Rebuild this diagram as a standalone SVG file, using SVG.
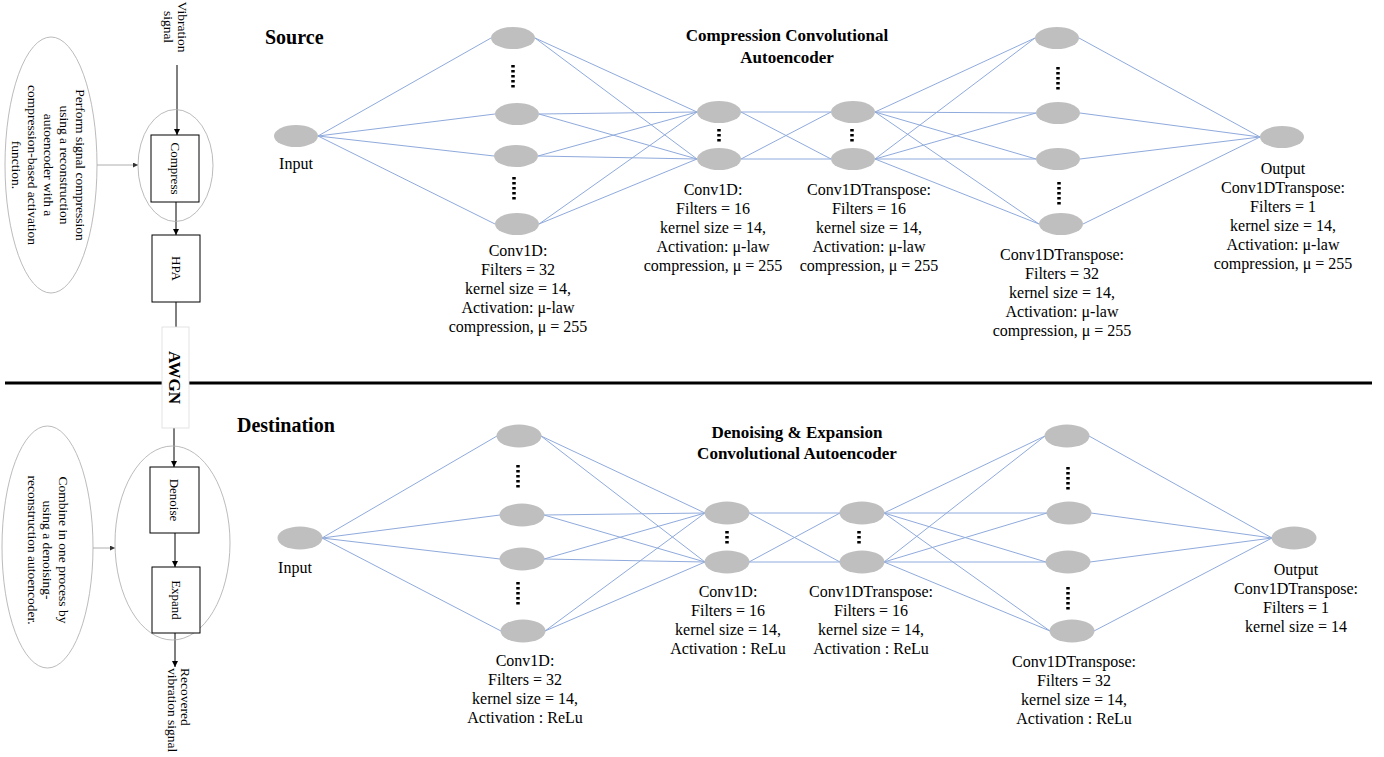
<svg xmlns="http://www.w3.org/2000/svg" width="1384" height="757" viewBox="0 0 1384 757">
<style>
text{font-family:"Liberation Serif","Times New Roman",serif;fill:#000}
.lbl{font-size:16px;text-anchor:middle}
.ttl{font-size:17px;font-weight:bold;text-anchor:middle}
.big{font-size:20px;font-weight:bold}
.side{font-size:13.5px;text-anchor:middle}
.box{font-size:13px;text-anchor:middle}
.n{fill:#bfbfbf}
.e{stroke:#8faadc;stroke-width:1;fill:none}
.dots{stroke:#000;stroke-width:3.5;stroke-dasharray:2.5 2.5}
.bx{fill:#fff;stroke:#000;stroke-width:1}
.el{fill:none;stroke:#aaa;stroke-width:0.8}
.ar{stroke:#000;stroke-width:1;fill:none}
</style>
<defs>
<marker id="ah" viewBox="0 0 10 10" refX="10" refY="5" markerWidth="6" markerHeight="6" markerUnits="userSpaceOnUse" orient="auto"><path d="M0,0L10,5L0,10z" fill="#000"/></marker>
<marker id="ahs" viewBox="0 0 10 10" refX="10" refY="5" markerWidth="5" markerHeight="5" markerUnits="userSpaceOnUse" orient="auto"><path d="M0,0L10,5L0,10z" fill="#333"/></marker>
</defs>
<rect width="1384" height="757" fill="#fff"/>
<line x1="5" y1="383" x2="1372" y2="383" stroke="#000" stroke-width="3"/>

<g id="connectors">
<g class="e">
<!-- top: input -> L1 -->
<line x1="318" y1="136" x2="491" y2="38"/><line x1="318" y1="136" x2="495" y2="114"/><line x1="318" y1="136" x2="494" y2="156"/><line x1="318" y1="136" x2="495" y2="224"/>
<!-- L1 -> L2 -->
<line x1="535" y1="38" x2="697" y2="112"/><line x1="535" y1="38" x2="697" y2="159"/>
<line x1="539" y1="114" x2="697" y2="112"/><line x1="539" y1="114" x2="697" y2="159"/>
<line x1="538" y1="156" x2="697" y2="112"/><line x1="538" y1="156" x2="697" y2="159"/>
<line x1="539" y1="224" x2="697" y2="112"/><line x1="539" y1="224" x2="697" y2="159"/>
<!-- L2 -> L3 -->
<line x1="741" y1="112" x2="831" y2="112"/><line x1="741" y1="112" x2="831" y2="159"/>
<line x1="741" y1="159" x2="831" y2="112"/><line x1="741" y1="159" x2="831" y2="159"/>
<!-- L3 -> L4 -->
<line x1="875" y1="112" x2="1035" y2="38"/><line x1="875" y1="112" x2="1036" y2="113"/><line x1="875" y1="112" x2="1036" y2="159"/><line x1="875" y1="112" x2="1039" y2="224"/>
<line x1="875" y1="159" x2="1035" y2="38"/><line x1="875" y1="159" x2="1036" y2="113"/><line x1="875" y1="159" x2="1036" y2="159"/><line x1="875" y1="159" x2="1039" y2="224"/>
<!-- L4 -> output -->
<line x1="1079" y1="38" x2="1260" y2="137"/><line x1="1080" y1="113" x2="1260" y2="137"/><line x1="1080" y1="159" x2="1260" y2="137"/><line x1="1083" y1="224" x2="1260" y2="137"/>

<!-- bottom: input -> L1 -->
<line x1="322" y1="538" x2="497" y2="436"/><line x1="322" y1="538" x2="500" y2="515"/><line x1="322" y1="538" x2="500" y2="559"/><line x1="322" y1="538" x2="501" y2="631"/>
<!-- L1 -> L2 -->
<line x1="541" y1="436" x2="705" y2="513"/><line x1="541" y1="436" x2="705" y2="562"/>
<line x1="544" y1="515" x2="705" y2="513"/><line x1="544" y1="515" x2="705" y2="562"/>
<line x1="544" y1="559" x2="705" y2="513"/><line x1="544" y1="559" x2="705" y2="562"/>
<line x1="545" y1="631" x2="705" y2="513"/><line x1="545" y1="631" x2="705" y2="562"/>
<!-- L2 -> L3 -->
<line x1="749" y1="513" x2="840" y2="513"/><line x1="749" y1="513" x2="840" y2="562"/>
<line x1="749" y1="562" x2="840" y2="513"/><line x1="749" y1="562" x2="840" y2="562"/>
<!-- L3 -> L4 -->
<line x1="884" y1="513" x2="1045" y2="436"/><line x1="884" y1="513" x2="1047" y2="513"/><line x1="884" y1="513" x2="1046" y2="562"/><line x1="884" y1="513" x2="1050" y2="631"/>
<line x1="884" y1="562" x2="1045" y2="436"/><line x1="884" y1="562" x2="1047" y2="513"/><line x1="884" y1="562" x2="1046" y2="562"/><line x1="884" y1="562" x2="1050" y2="631"/>
<!-- L4 -> output -->
<line x1="1089" y1="436" x2="1272" y2="538"/><line x1="1091" y1="513" x2="1272" y2="538"/><line x1="1090" y1="562" x2="1272" y2="538"/><line x1="1094" y1="631" x2="1272" y2="538"/>
</g>
<!-- left flow -->
<line class="ar" x1="177" y1="65" x2="177" y2="135" marker-end="url(#ah)"/>
<line class="ar" x1="176" y1="202" x2="176" y2="235" marker-end="url(#ah)"/>
<line class="ar" x1="176" y1="302" x2="176" y2="327"/>
<line class="ar" x1="174" y1="428" x2="174" y2="467" marker-end="url(#ah)"/>
<line class="ar" x1="175" y1="533" x2="175" y2="567" marker-end="url(#ah)"/>
<line class="ar" x1="175" y1="633" x2="175" y2="667" marker-end="url(#ah)"/>
<line x1="97" y1="165" x2="138" y2="165" stroke="#999" stroke-width="0.8" marker-end="url(#ahs)"/>
<line x1="93" y1="548" x2="115" y2="548" stroke="#999" stroke-width="0.8" marker-end="url(#ahs)"/>
</g>

<g id="awgn">
<rect x="162" y="327" width="27" height="101" fill="#fff" stroke="#ddd" stroke-width="0.8"/>
<text transform="translate(169,377.5) rotate(90)" style="font-size:17px;font-weight:bold;text-anchor:middle">AWGN</text>
</g>

<g id="source-side">
<g id="vib-signal"><text class="side" transform="translate(177.5,27) rotate(90)"><tspan x="0">Vibration</tspan><tspan x="0" dy="14">signal</tspan></text></g>
<g id="note-compress">
<ellipse class="el" cx="51" cy="165" rx="46" ry="128"/>
<text class="side" transform="translate(75.5,165) rotate(90)"><tspan x="0">Perform signal compression</tspan><tspan x="0" dy="15.8">using a reconstruction</tspan><tspan x="0" dy="15.8">autoencoder with a</tspan><tspan x="0" dy="15.8">compression-based activation</tspan><tspan x="0" dy="15.8">function.</tspan></text>
</g>
<ellipse class="el" cx="175.5" cy="165.5" rx="37.5" ry="56"/>
<g id="compress"><rect class="bx" x="151" y="135" width="48" height="67"/><text class="box" transform="translate(170.7,168.5) rotate(90)">Compress</text></g>
<g id="hpa"><rect class="bx" x="152" y="235" width="48" height="67"/><text class="box" transform="translate(171.5,268.5) rotate(90)">HPA</text></g>
</g>

<g id="dest-side">
<g id="note-denoise">
<ellipse class="el" cx="47.5" cy="547" rx="45.5" ry="121"/>
<text class="side" transform="translate(58.5,550) rotate(90)"><tspan x="0">Combine in one process by</tspan><tspan x="0" dy="15.5">using a denoising-</tspan><tspan x="0" dy="15.5">reconstruction autoencoder.</tspan></text>
</g>
<ellipse class="el" cx="172.5" cy="543" rx="57.5" ry="97"/>
<g id="denoise"><rect class="bx" x="150" y="467" width="49" height="66"/><text class="box" transform="translate(170,500) rotate(90)">Denoise</text></g>
<g id="expand"><rect class="bx" x="152" y="567" width="48" height="66"/><text class="box" transform="translate(171.5,600) rotate(90)">Expand</text></g>
<g id="recovered"><text transform="translate(180.5,668) rotate(90)" style="font-size:13.5px"><tspan x="0">Recovered</tspan><tspan x="0" dy="13">vibration signal</tspan></text></g>
</g>

<g id="titles">
<text class="big" x="265" y="44">Source</text>
<text class="ttl" x="787" y="41">Compression Convolutional</text>
<text class="ttl" x="787" y="63">Autoencoder</text>
<text class="big" x="237" y="432">Destination</text>
<text class="ttl" x="797" y="438">Denoising &amp; Expansion</text>
<text class="ttl" x="797" y="459">Convolutional Autoencoder</text>
</g>

<g id="top-input"><ellipse class="n" cx="296" cy="136" rx="22" ry="11"/><text class="lbl" x="296" y="169">Input</text></g>
<g id="top-l1">
<ellipse class="n" cx="513" cy="38" rx="22" ry="11"/><ellipse class="n" cx="517" cy="114" rx="22" ry="11"/><ellipse class="n" cx="516" cy="156" rx="22" ry="11"/><ellipse class="n" cx="517" cy="224" rx="22" ry="11"/>
<line class="dots" x1="513" y1="65" x2="513" y2="88"/><line class="dots" x1="514" y1="177" x2="514" y2="200"/>
<text class="lbl" x="518"><tspan x="518" y="256">Conv1D:</tspan><tspan x="518" y="275">Filters = 32</tspan><tspan x="518" y="294">kernel size = 14,</tspan><tspan x="518" y="313">Activation: μ-law</tspan><tspan x="518" y="332">compression, μ = 255</tspan></text>
</g>
<g id="top-l2">
<ellipse class="n" cx="719" cy="112" rx="22" ry="11"/><ellipse class="n" cx="719" cy="159" rx="22" ry="11"/>
<line class="dots" x1="719" y1="129" x2="719" y2="143"/>
<text class="lbl"><tspan x="713" y="195">Conv1D:</tspan><tspan x="713" y="214">Filters = 16</tspan><tspan x="713" y="233">kernel size = 14,</tspan><tspan x="713" y="252">Activation: μ-law</tspan><tspan x="713" y="271">compression, μ = 255</tspan></text>
</g>
<g id="top-l3">
<ellipse class="n" cx="853" cy="112" rx="22" ry="11"/><ellipse class="n" cx="853" cy="159" rx="22" ry="11"/>
<line class="dots" x1="852" y1="129" x2="852" y2="143"/>
<text class="lbl"><tspan x="869" y="195">Conv1DTranspose:</tspan><tspan x="869" y="214">Filters = 16</tspan><tspan x="869" y="233">kernel size = 14,</tspan><tspan x="869" y="252">Activation: μ-law</tspan><tspan x="869" y="271">compression, μ = 255</tspan></text>
</g>
<g id="top-l4">
<ellipse class="n" cx="1057" cy="38" rx="22" ry="11"/><ellipse class="n" cx="1058" cy="113" rx="22" ry="11"/><ellipse class="n" cx="1058" cy="159" rx="22" ry="11"/><ellipse class="n" cx="1061" cy="224" rx="22" ry="11"/>
<line class="dots" x1="1058" y1="67" x2="1058" y2="90"/><line class="dots" x1="1059" y1="182" x2="1059" y2="205"/>
<text class="lbl"><tspan x="1062" y="260">Conv1DTranspose:</tspan><tspan x="1062" y="279">Filters = 32</tspan><tspan x="1062" y="298">kernel size = 14,</tspan><tspan x="1062" y="317">Activation: μ-law</tspan><tspan x="1062" y="336">compression, μ = 255</tspan></text>
</g>
<g id="top-output">
<ellipse class="n" cx="1282" cy="137" rx="22" ry="11"/>
<text class="lbl"><tspan x="1283" y="174">Output</tspan><tspan x="1283" y="193">Conv1DTranspose:</tspan><tspan x="1283" y="212">Filters = 1</tspan><tspan x="1283" y="231">kernel size = 14,</tspan><tspan x="1283" y="250">Activation: μ-law</tspan><tspan x="1283" y="269">compression, μ = 255</tspan></text>
</g>

<g id="bot-input"><ellipse class="n" cx="300" cy="538" rx="22.5" ry="11.5"/><text class="lbl" x="295" y="573">Input</text></g>
<g id="bot-l1">
<ellipse class="n" cx="519" cy="436" rx="22.5" ry="11.5"/><ellipse class="n" cx="522" cy="515" rx="22.5" ry="11.5"/><ellipse class="n" cx="522" cy="559" rx="22.5" ry="11.5"/><ellipse class="n" cx="523" cy="631" rx="22.5" ry="11.5"/>
<line class="dots" x1="518" y1="465" x2="518" y2="488"/><line class="dots" x1="518" y1="582" x2="518" y2="605"/>
<text class="lbl"><tspan x="525" y="666">Conv1D:</tspan><tspan x="525" y="685">Filters = 32</tspan><tspan x="525" y="704">kernel size = 14,</tspan><tspan x="525" y="723">Activation : ReLu</tspan></text>
</g>
<g id="bot-l2">
<ellipse class="n" cx="727" cy="513" rx="22.5" ry="11.5"/><ellipse class="n" cx="727" cy="562" rx="22.5" ry="11.5"/>
<line class="dots" x1="727" y1="531" x2="727" y2="545"/>
<text class="lbl"><tspan x="728" y="597">Conv1D:</tspan><tspan x="728" y="616">Filters = 16</tspan><tspan x="728" y="635">kernel size = 14,</tspan><tspan x="728" y="654">Activation : ReLu</tspan></text>
</g>
<g id="bot-l3">
<ellipse class="n" cx="862" cy="513" rx="22.5" ry="11.5"/><ellipse class="n" cx="862" cy="562" rx="22.5" ry="11.5"/>
<line class="dots" x1="859" y1="531" x2="859" y2="545"/>
<text class="lbl"><tspan x="871" y="597">Conv1DTranspose:</tspan><tspan x="871" y="616">Filters = 16</tspan><tspan x="871" y="635">kernel size = 14,</tspan><tspan x="871" y="654">Activation : ReLu</tspan></text>
</g>
<g id="bot-l4">
<ellipse class="n" cx="1067" cy="436" rx="22.5" ry="11.5"/><ellipse class="n" cx="1069" cy="513" rx="22.5" ry="11.5"/><ellipse class="n" cx="1068" cy="562" rx="22.5" ry="11.5"/><ellipse class="n" cx="1072" cy="631" rx="22.5" ry="11.5"/>
<line class="dots" x1="1068" y1="467" x2="1068" y2="490"/><line class="dots" x1="1068" y1="587" x2="1068" y2="610"/>
<text class="lbl"><tspan x="1074" y="667">Conv1DTranspose:</tspan><tspan x="1074" y="686">Filters = 32</tspan><tspan x="1074" y="705">kernel size = 14,</tspan><tspan x="1074" y="724">Activation : ReLu</tspan></text>
</g>
<g id="bot-output">
<ellipse class="n" cx="1294" cy="538" rx="22.5" ry="11.5"/>
<text class="lbl"><tspan x="1296" y="575">Output</tspan><tspan x="1296" y="594">Conv1DTranspose:</tspan><tspan x="1296" y="613">Filters = 1</tspan><tspan x="1296" y="632">kernel size = 14</tspan></text>
</g>
</svg>
